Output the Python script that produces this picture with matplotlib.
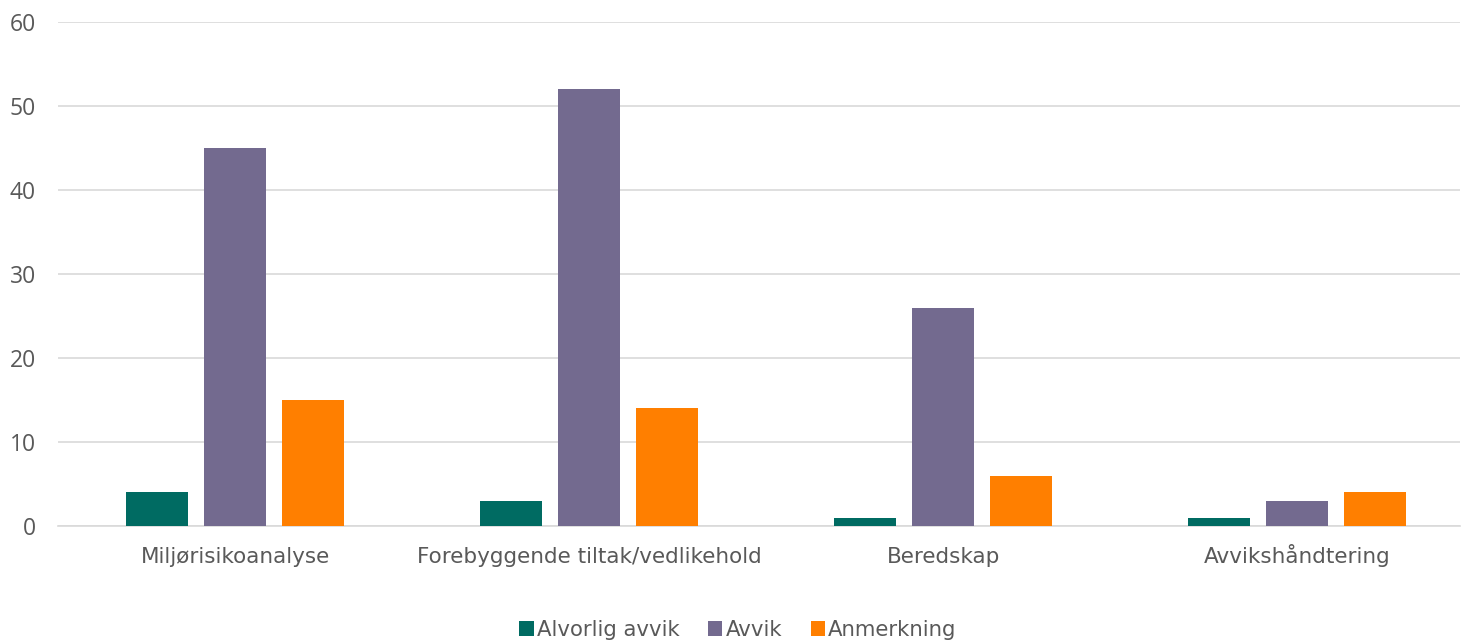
import matplotlib
matplotlib.use("Agg")
import matplotlib.pyplot as plt
import numpy as np
from matplotlib.patches import Patch

categories = ["Miljørisikoanalyse", "Forebyggende tiltak/vedlikehold", "Beredskap", "Avvikshåndtering"]
series_names = ["Alvorlig avvik", "Avvik", "Anmerkning"]
alvorlig = [4, 3, 1, 1]
avvik = [45, 52, 26, 3]
anmerkning = [15, 14, 6, 4]
yticks = [0, 10, 20, 30, 40, 50, 60]

colors = ["#006B62", "#736A8F", "#FF7F00"]
text_color = "#595959"

W, H = 1464, 642
fig = plt.figure(figsize=(W / 100, H / 100), dpi=100)
ax = fig.add_axes([58 / W, (H - 526) / H, (1460 - 58) / W, (526 - 22) / H])

x = np.arange(len(categories))
width = 62 / 354
step = 78 / 354
for i, (vals, name) in enumerate(zip([alvorlig, avvik, anmerkning], series_names)):
    ax.bar(x + (i - 1) * step, vals, width, color=colors[i], label=name, zorder=3)

ax.set_ylim(0, 60)
ax.set_xlim(-0.5, (1460 - 58.5) / 354 - 0.5)
ax.set_yticks(yticks)
ax.set_yticklabels([str(t) for t in yticks], fontfamily="Open Sans", fontsize=16.5, color=text_color)
ax.set_xticks(x)
ax.set_xticklabels(categories, fontfamily="DejaVu Sans", fontsize=15.5, color=text_color, va="baseline")
ax.tick_params(axis="y", length=0, pad=16)
ax.tick_params(axis="x", length=0, pad=26.5)
ax.grid(axis="y", color="#D9D9D9", linewidth=1.2, zorder=0)
for s in ["top", "right", "left"]:
    ax.spines[s].set_visible(False)
ax.spines["bottom"].set_color("#D9D9D9")
ax.spines["bottom"].set_linewidth(1.2)

handles = [Patch(facecolor=c, label=n) for c, n in zip(colors, series_names)]
leg = fig.legend(handles=handles, loc="center", bbox_to_anchor=(738 / W, 1 - 630 / H), ncol=3,
                 frameon=False, prop={"family": "DejaVu Sans", "size": 15.3},
                 handlelength=0.67, handleheight=0.67, handletextpad=0.15, columnspacing=1.35)
for t in leg.get_texts():
    t.set_color(text_color)

fig.savefig("out.png", dpi=100)
